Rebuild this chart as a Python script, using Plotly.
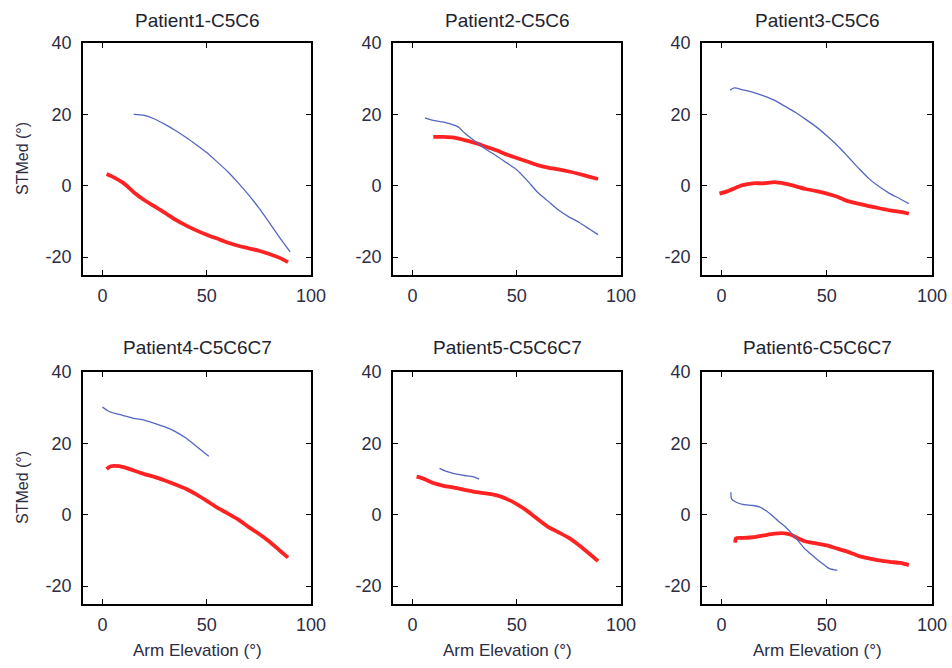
import plotly.graph_objects as go

# ---------------- data ----------------
titles = ["Patient1-C5C6", "Patient2-C5C6", "Patient3-C5C6",
          "Patient4-C5C6C7", "Patient5-C5C6C7", "Patient6-C5C6C7"]

p1_blue_x = [15, 20, 25, 30, 35, 40, 45, 50, 55, 60, 65, 70, 75, 80, 85, 90]
p1_blue_y = [20, 19.7, 18.7, 17.2, 15.5, 13.6, 11.5, 9.3, 6.7, 4, 0.9, -2.5, -6.2, -10.3, -14.5, -18.5]
p1_red_x = [2, 5, 10, 15, 20, 25, 30, 35, 40, 45, 50, 55, 60, 65, 70, 75, 80, 85, 89]
p1_red_y = [3.3, 2.5, 0.8, -1.8, -4, -5.8, -7.6, -9.5, -11.1, -12.5, -13.7, -14.8, -15.9, -16.8, -17.5, -18.2, -19.1, -20.2, -21.4]

p2_blue_x = [6, 10, 15, 20, 22, 25, 30, 35, 40, 45, 50, 55, 60, 65, 70, 75, 80, 85, 89]
p2_blue_y = [19, 18.3, 17.8, 17, 16.5, 14.8, 12.5, 10.3, 8.5, 6.5, 4.5, 1.5, -1.8, -4.3, -6.8, -8.7, -10.3, -12.2, -13.7]
p2_red_x = [10, 15, 20, 25, 30, 35, 40, 45, 50, 55, 60, 65, 70, 75, 80, 85, 89]
p2_red_y = [13.7, 13.7, 13.5, 12.8, 12, 11, 10, 8.8, 7.8, 6.8, 5.8, 5.1, 4.6, 4, 3.3, 2.5, 1.9]

p3_blue_x = [4, 6, 10, 15, 20, 25, 30, 35, 40, 45, 50, 55, 60, 65, 70, 75, 80, 85, 89]
p3_blue_y = [26.8, 27.4, 26.9, 26.2, 25.2, 24, 22.3, 20.6, 18.6, 16.5, 14, 11.3, 8.2, 5, 2, -0.3, -2.2, -3.7, -5]
p3_red_x = [-1, 3, 7, 10, 15, 20, 25, 30, 35, 40, 45, 50, 55, 60, 65, 70, 75, 80, 85, 89]
p3_red_y = [-2.2, -1.5, -0.5, 0.2, 0.7, 0.7, 1, 0.6, -0.1, -0.9, -1.5, -2.2, -3.1, -4.3, -5, -5.7, -6.3, -6.9, -7.3, -7.8]

p4_blue_x = [0, 3, 6, 10, 15, 20, 25, 30, 35, 40, 45, 51]
p4_blue_y = [30.2, 29, 28.4, 27.8, 27, 26.5, 25.6, 24.6, 23.3, 21.5, 19.2, 16.4]
p4_red_x = [2, 4, 8, 12, 16, 20, 25, 30, 35, 40, 45, 50, 55, 60, 65, 70, 75, 80, 85, 89]
p4_red_y = [12.8, 13.6, 13.6, 13, 12.2, 11.4, 10.6, 9.6, 8.5, 7.3, 5.7, 3.9, 2, 0.4, -1.3, -3.4, -5.3, -7.5, -10, -12]

p5_blue_x = [13, 16, 20, 25, 29, 32]
p5_blue_y = [13, 12.2, 11.5, 11, 10.7, 10]
p5_red_x = [2, 5, 10, 15, 20, 25, 30, 35, 40, 45, 50, 55, 60, 65, 70, 75, 80, 85, 89]
p5_red_y = [10.7, 10.2, 8.9, 8.1, 7.6, 7, 6.4, 6, 5.5, 4.5, 3, 1.1, -1.2, -3.4, -4.9, -6.5, -8.6, -11, -13]

p6_blue_x = [4.4, 4.8, 7, 10, 15, 18, 21, 24, 27, 30, 33, 36, 39, 42, 45, 48, 51, 55]
p6_blue_y = [6.3, 4.4, 3.5, 2.9, 2.6, 2.2, 1.2, -0.2, -1.8, -3.2, -5, -7, -9.2, -10.8, -12.3, -13.7, -15, -15.6]
p6_red_x = [6.5, 6.8, 10, 15, 20, 25, 30, 33, 36, 40, 45, 50, 55, 60, 65, 70, 75, 80, 85, 89]
p6_red_y = [-7.8, -6.6, -6.5, -6.3, -5.8, -5.3, -5.2, -5.6, -6.5, -7.5, -8, -8.6, -9.5, -10.4, -11.5, -12.2, -12.8, -13.2, -13.5, -14.1]

blue_x = [p1_blue_x, p2_blue_x, p3_blue_x, p4_blue_x, p5_blue_x, p6_blue_x]
blue_y = [p1_blue_y, p2_blue_y, p3_blue_y, p4_blue_y, p5_blue_y, p6_blue_y]
red_x = [p1_red_x, p2_red_x, p3_red_x, p4_red_x, p5_red_x, p6_red_x]
red_y = [p1_red_y, p2_red_y, p3_red_y, p4_red_y, p5_red_y, p6_red_y]

x_ticks = [0, 50, 100]
x_tick_labels = ["0", "50", "100"]
y_ticks = [-20, 0, 20, 40]
y_tick_labels = ["-20", "0", "20", "40"]
y_label = "STMed (°)"
x_label = "Arm Elevation (°)"

# ---------------- layout geometry ----------------
W, H = 952, 668
col_px = [(83, 311), (393, 621), (702, 932)]
row_px = [(43, 275), (372, 604)]


def px_x(p):
    return p / W


def px_y(p):
    return 1 - p / H


FONT = "Liberation Sans, Arial, sans-serif"
TXT = "#2c2c44"
BLUE = "#5565c0"
RED = "#ff2222"

fig = go.Figure()
layout = dict(width=W, height=H, margin=dict(l=0, r=0, t=0, b=0, autoexpand=False),
              paper_bgcolor="white", plot_bgcolor="white", showlegend=False)
annotations = []

for i in range(6):
    r, c = divmod(i, 3)
    n = "" if i == 0 else str(i + 1)
    xa, ya = "x" + n, "y" + n
    x0, x1 = col_px[c]
    y0, y1 = row_px[r]
    axis_common = dict(showgrid=False, zeroline=False, showline=True, linecolor="black",
                       linewidth=1.6, mirror="ticks", ticks="inside", ticklen=5,
                       tickcolor="black", tickwidth=1, automargin=False,
                       tickfont=dict(family=FONT, size=18, color=TXT))
    layout["xaxis" + n] = dict(axis_common, domain=[px_x(x0), px_x(x1)], range=[-9.3, 100],
                               tickvals=x_ticks, ticktext=x_tick_labels, anchor=ya,
                               ticklabelstandoff=4)
    layout["yaxis" + n] = dict(axis_common, domain=[px_y(y1), px_y(y0)], range=[-25, 40],
                               tickvals=y_ticks, ticktext=y_tick_labels, anchor=xa,
                               ticklabelstandoff=6)
    fig.add_trace(go.Scatter(x=red_x[i], y=red_y[i], mode="lines", xaxis=xa, yaxis=ya,
                             line=dict(color=RED, width=3.8, shape="spline", smoothing=0.6)))
    fig.add_trace(go.Scatter(x=blue_x[i], y=blue_y[i], mode="lines", xaxis=xa, yaxis=ya,
                             line=dict(color=BLUE, width=1.3, shape="spline", smoothing=0.6)))
    # subplot title
    ty = 20 if r == 0 else 347
    annotations.append(dict(text=titles[i], x=px_x((x0 + x1) / 2), y=px_y(ty),
                            xref="paper", yref="paper", showarrow=False,
                            xanchor="center", yanchor="middle",
                            font=dict(family=FONT, size=19, color="#22222e")))
    if c == 0:
        annotations.append(dict(text=y_label, x=px_x(22), y=px_y((y0 + y1) / 2),
                                xref="paper", yref="paper", showarrow=False, textangle=-90,
                                xanchor="center", yanchor="middle",
                                font=dict(family=FONT, size=16, color=TXT)))
    if r == 1:
        annotations.append(dict(text=x_label, x=px_x((x0 + x1) / 2), y=px_y(650),
                                xref="paper", yref="paper", showarrow=False,
                                xanchor="center", yanchor="middle",
                                font=dict(family=FONT, size=17, color=TXT)))

layout["annotations"] = annotations
fig.update_layout(**layout)
fig.write_html(
    "out.html",
    config={"displayModeBar": False},
    post_script="document.documentElement.style.margin='0';"
                "document.body.style.margin='0';"
                "document.body.style.overflow='hidden';",
)
